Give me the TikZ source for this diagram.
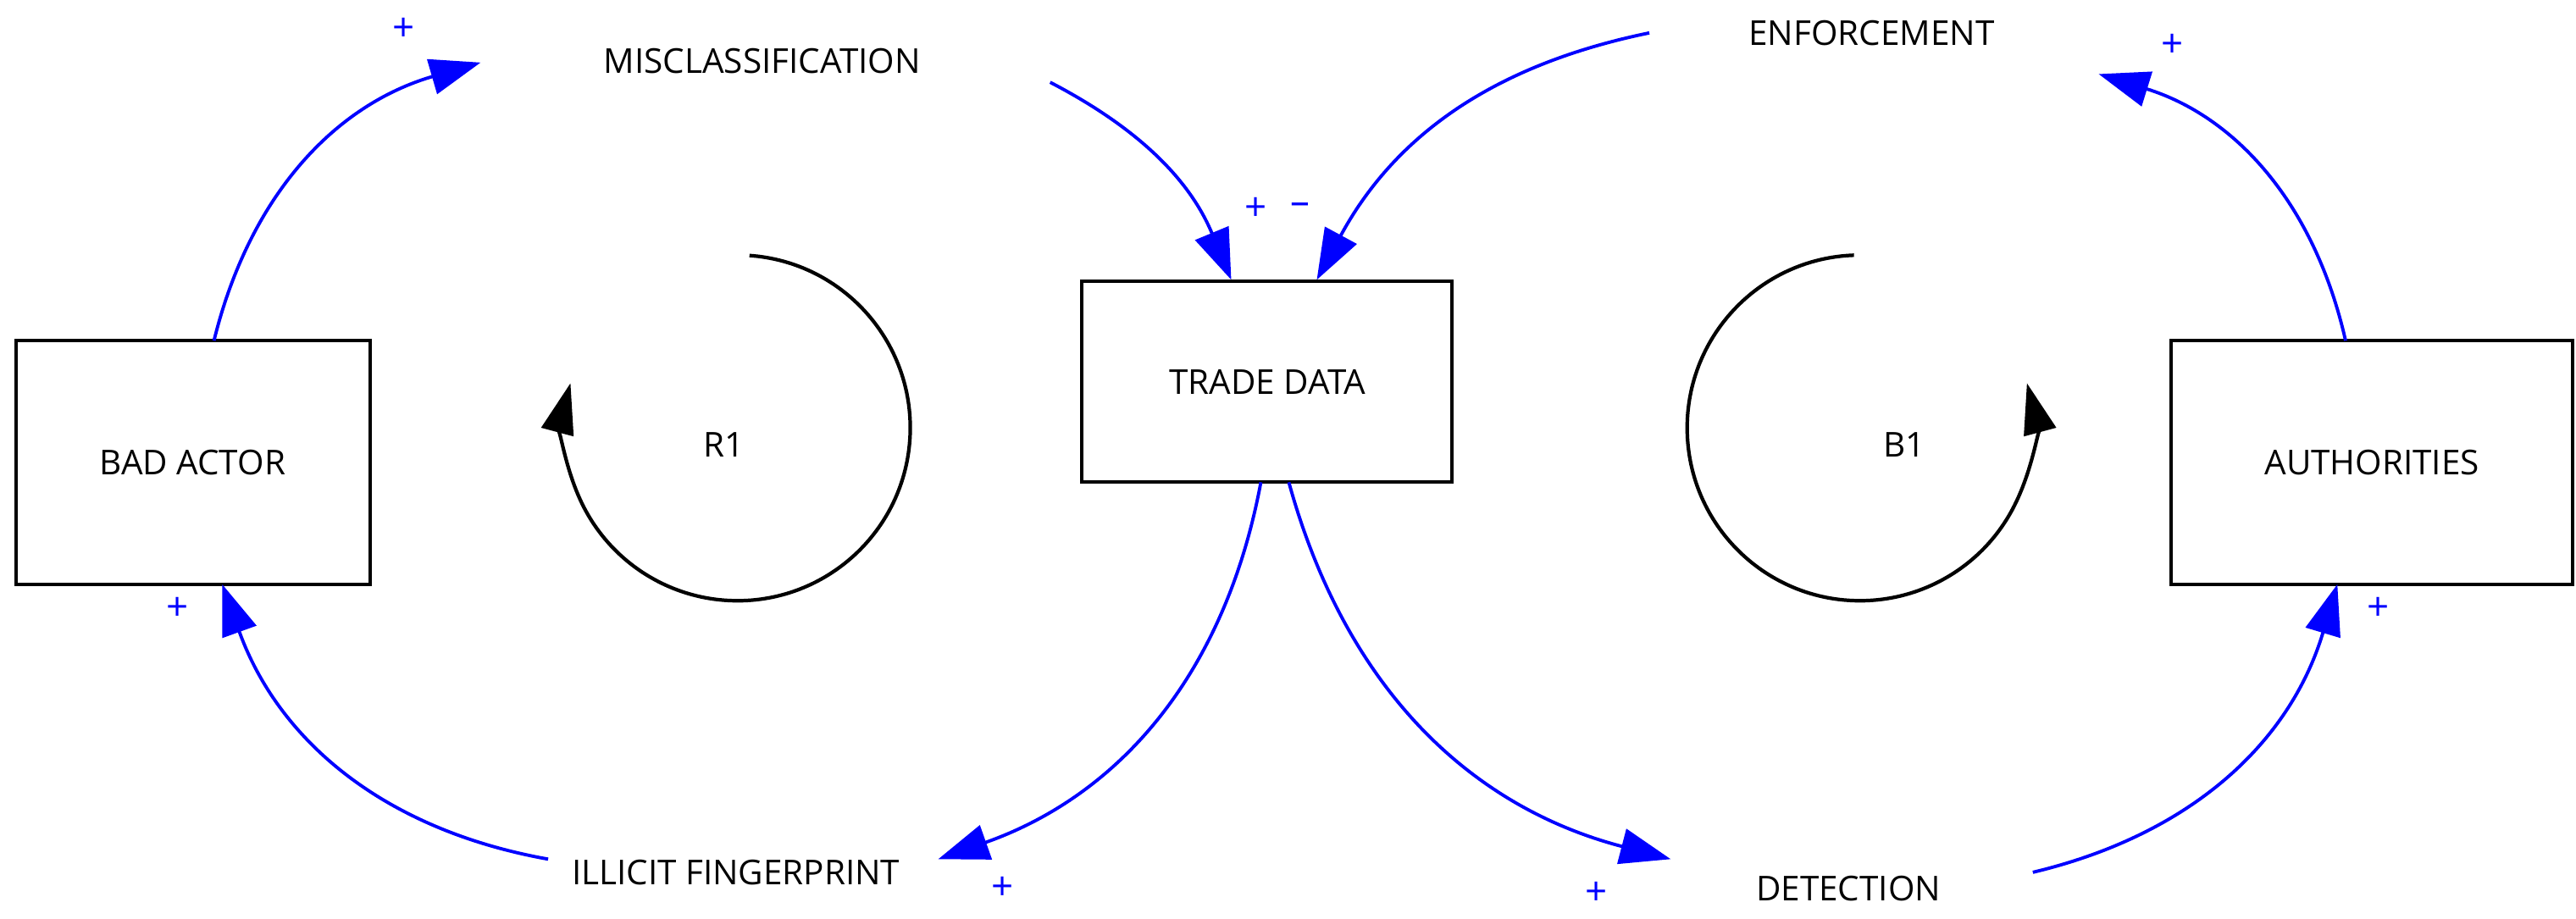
\documentclass[tikz,border=0pt]{standalone}
\usepackage{fontspec}
\setmainfont{Open Sans}
\usetikzlibrary{arrows.meta}
\begin{document}
\begin{tikzpicture}[x=0.01943cm,y=0.01943cm,
  lbl/.style={font=\fontsize{11.5}{13}\selectfont},
  sgn/.style={text=blue,font=\fontsize{13}{15}\selectfont},
  lnk/.style={draw=blue,line width=1.1pt,-{Triangle[length=17pt,width=12pt]}},
  loop/.style={draw=black,line width=1.2pt,-{Triangle[length=17pt,width=11pt]}}]
\useasboundingbox (0,0) rectangle (1565,558);
\draw[line width=1.1pt] (10,351) rectangle (225,203);
\node[lbl] (ba) at (117,277) {BAD ACTOR};
\coordinate (batop) at (130,351);
\coordinate (babot) at (135,203);
\draw[line width=1.1pt] (657,387) rectangle (882,265);
\node[lbl] (td) at (770,326) {TRADE DATA};
\coordinate (tdt1) at (748,388);
\coordinate (tdt2) at (800,388);
\coordinate (tdb1) at (766,265);
\coordinate (tdb2) at (783,265);
\draw[line width=1.1pt] (1319,351) rectangle (1563,203);
\node[lbl] (au) at (1441,277) {AUTHORITIES};
\coordinate (aut) at (1425,351);
\coordinate (aub) at (1420,203);
\node[lbl] (mc) at (463,521) {MISCLASSIFICATION};
\node[lbl] (en) at (1137,538) {ENFORCEMENT};
\node[lbl] (il) at (447,28) {ILLICIT FINGERPRINT};
\node[lbl] (de) at (1123,18) {DETECTION};
\coordinate (mcin) at (292,520);
\coordinate (mcout) at (638,508);
\coordinate (enout) at (1002,538);
\coordinate (enin) at (1275,513);
\coordinate (ilin) at (570,36);
\coordinate (ilout) at (333,36);
\coordinate (dein) at (1015,36);
\coordinate (deout) at (1235,28);
\path[lnk] (batop) to[bend left=30] (mcin);
\path[lnk] (mcout) to[bend left=20] (tdt1);
\path[lnk] (enout) to[bend right=25] (tdt2);
\path[lnk] (aut) to[bend right=30] (enin);
\path[lnk] (tdb1) to[bend left=30] (ilin);
\path[lnk] (tdb2) to[bend right=30] (dein);
\path[lnk] (deout) to[bend right=30] (aub);
\path[lnk] (ilout) to[bend left=30] (babot);
\node[sgn] (s1) at (245,540) {+};
\node[sgn] (s2) at (763,431) {+};
\node[sgn] (s3) at (790,431) {--};
\node[sgn] (s4) at (1320,530) {+};
\node[sgn] (s5) at (609,18) {+};
\node[sgn] (s6) at (970,15) {+};
\node[sgn] (s7) at (1445,188) {+};
\node[sgn] (s8) at (108,188) {+};
\coordinate (r1c) at (448,298);
\coordinate (b1c) at (1130,298);
\draw[loop] ([shift={(86:105)}]r1c) arc[start angle=86,end angle=-195,radius=105];
\draw[loop] ([shift={(92:105)}]b1c) arc[start angle=92,end angle=375,radius=105];
\node[lbl] (r1) at (440,288) {R1};
\node[lbl] (b1) at (1157,288) {B1};
\end{tikzpicture}
\end{document}
